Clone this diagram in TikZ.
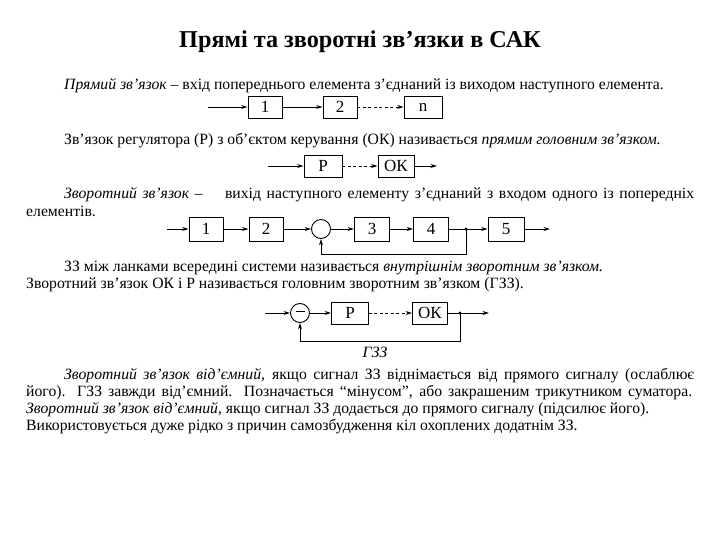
\documentclass[tikz,border=0pt]{standalone}
\usepackage{fontspec}
\setmainfont{Liberation Serif}
\usetikzlibrary{arrows.meta}
\begin{document}
\begin{tikzpicture}[x=1pt,y=-1pt,
 blk/.style={draw, line width=0.9pt, minimum height=22pt, inner sep=0pt, font=\fontsize{17}{17}\selectfont},
 sumc/.style={draw, circle, line width=0.9pt, minimum size=19pt, inner sep=0pt},
 arr/.style={line width=0.8pt, -{Stealth[length=6.5pt,width=4pt]}},
 darr/.style={arr, dash pattern=on 3pt off 2.5pt},
 ln/.style={line width=0.8pt},
 txt/.style={anchor=base west, inner sep=0pt, font=\fontsize{15.7}{17}\selectfont},
]
\useasboundingbox (0,0) rectangle (720,540);

% title
\node[anchor=base, inner sep=0pt] (title) at (360,48) {\fontsize{24.2}{24}\selectfont\bfseries Прямі та зворотні зв’язки в САК};

% line 1
\node[txt] (t1) at (64,90) {\textit{Прямий зв’язок} – вхід попереднього елемента з’єднаний із виходом наступного елемента.};

% diagram 1
\coordinate (a0) at (208,107);
\node[blk, minimum width=34pt] (a1) at (265,107) {1};
\node[blk, minimum width=34pt] (a2) at (340,107) {2};
\node[blk, minimum width=38pt] (an) at (423,107) {n};
\draw[arr] (a0) -- (a1);
\draw[arr] (a1) -- (a2);
\draw[darr] (a2) -- (an);

% line 2
\node[txt] (t2) at (64,145) {Зв’язок регулятора (Р) з об’єктом керування (ОК) називається \textit{прямим головним зв’язком.}};

% diagram 2
\coordinate (b0) at (268,166);
\node[blk, minimum width=38pt] (bp) at (323,166) {Р};
\node[blk, minimum width=36pt] (bo) at (396,166) {ОК};
\coordinate (b9) at (437,166);
\draw[arr] (b0) -- (bp);
\draw[darr] (bp) -- (bo);
\draw[arr] (bo) -- (b9);

% line 3
\node[txt] (t3) at (64,199) {\makebox[630pt][s]{\textit{Зворотний зв’язок} – \ \ \ вихід наступного елементу з’єднаний з входом одного із попередніх}};
\node[txt] (t3b) at (26,216) {елементів.};

% diagram 3
\coordinate (c0) at (167,229);
\node[blk, minimum width=34pt, minimum height=24pt] (c1) at (206,229) {1};
\node[blk, minimum width=34pt, minimum height=24pt] (c2) at (266,229) {2};
\node[sumc] (s3) at (321,229) {};
\node[blk, minimum width=35pt, minimum height=24pt] (c3) at (372,229) {3};
\node[blk, minimum width=35pt, minimum height=24pt] (c4) at (431,229) {4};
\coordinate (d3) at (466,229);
\node[blk, minimum width=36pt, minimum height=24pt] (c5) at (506,229) {5};
\coordinate (c9) at (550,229);
\coordinate (f3) at (466,254);
\draw[arr] (c0) -- (c1);
\draw[arr] (c1) -- (c2);
\draw[arr] (c2) -- (s3);
\draw[arr] (s3) -- (c3);
\draw[arr] (c3) -- (c4);
\draw[ln] (c4) -- (d3);
\draw[arr] (d3) -- (c5);
\draw[arr] (c5) -- (c9);
\fill (d3) circle (1.6pt);
\draw[arr] (d3) -- (f3) -| (s3);

% lines 4,5
\node[txt] (t4) at (64,271) {ЗЗ між ланками всередині системи називається \textit{внутрішнім зворотним зв’язком.}};
\node[txt] (t5) at (26,288) {Зворотний зв’язок ОК і Р називається головним зворотним зв’язком (ГЗЗ).};

% diagram 4
\coordinate (e0) at (265,313);
\node[sumc] (s4) at (300,313) {\rule[3pt]{9pt}{0.7pt}};
\node[blk, minimum width=37pt] (ep) at (350,313) {Р};
\node[blk, minimum width=35pt] (eo) at (430,313) {ОК};
\coordinate (d4) at (460,313);
\coordinate (e9) at (489,313);
\coordinate (f4) at (460,341);
\draw[arr] (e0) -- (s4);
\draw[arr] (s4) -- (ep);
\draw[darr] (ep) -- (eo);
\draw[ln] (eo) -- (d4);
\draw[arr] (d4) -- (e9);
\fill (d4) circle (1.6pt);
\draw[arr] (d4) -- (f4) -| (s4);
\node[anchor=base, inner sep=0pt, font=\fontsize{15.7}{17}\selectfont\itshape] (gzz) at (375,357) {ГЗЗ};

% lines 6-9
\node[txt] (t6) at (64,379) {\makebox[630pt][s]{\textit{Зворотний зв’язок від’ємний}, якщо сигнал ЗЗ віднімається від прямого сигналу (ослаблює}};
\node[txt] (t7) at (26,396) {\makebox[666pt][s]{його). ГЗЗ завжди від’ємний. Позначається “мінусом”, або закрашеним трикутником суматора.}};
\node[txt] (t8) at (26,413) {\textit{Зворотний зв’язок від’ємний}, якщо сигнал ЗЗ додається до прямого сигналу (підсилює його).};
\node[txt] (t9) at (26,430) {Використовується дуже рідко з причин самозбудження кіл охоплених додатнім ЗЗ.};
\end{tikzpicture}
\end{document}
